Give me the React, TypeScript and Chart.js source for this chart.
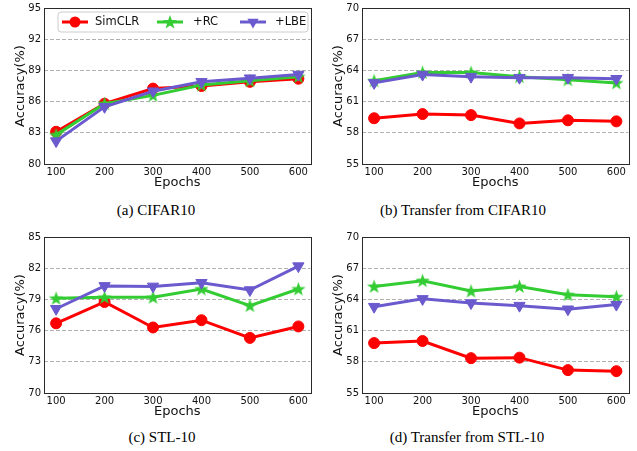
import React, { useEffect, useRef } from 'react';
import { Chart, registerables } from 'chart.js';

Chart.register(...registerables);

const epochs = [100, 200, 300, 400, 500, 600];
const seriesNames = ['SimCLR', '+RC', '+LBE'];

const cifarSimclr = [83.1, 85.8, 87.25, 87.5, 87.9, 88.2];
const cifarRC = [82.8, 85.8, 86.6, 87.6, 88.0, 88.4];
const cifarLBE = [82.2, 85.5, 87.0, 87.9, 88.25, 88.6];

const transCifarSimclr = [59.4, 59.8, 59.7, 58.9, 59.2, 59.1];
const transCifarRC = [63.0, 63.8, 63.8, 63.4, 63.1, 62.8];
const transCifarLBE = [62.8, 63.6, 63.4, 63.3, 63.3, 63.2];

const stlSimclr = [76.7, 78.75, 76.3, 77.0, 75.3, 76.4];
const stlRC = [79.1, 79.2, 79.2, 80.0, 78.4, 80.0];
const stlLBE = [78.1, 80.3, 80.25, 80.6, 79.9, 82.2];

const transStlSimclr = [59.8, 60.0, 58.35, 58.4, 57.2, 57.1];
const transStlRC = [65.25, 65.8, 64.8, 65.25, 64.45, 64.25];
const transStlLBE = [63.3, 64.05, 63.65, 63.4, 63.05, 63.5];

const cifarTicks = [80, 83, 86, 89, 92, 95];
const transferTicks = [55, 58, 61, 64, 67, 70];
const stlTicks = [70, 73, 76, 79, 82, 85];

const captions = ['(a) CIFAR10', '(b) Transfer from CIFAR10', '(c) STL-10', '(d) Transfer from STL-10'];

const RED = '#ff0000';
const GREEN = '#33cc33';
const PURPLE = '#6a5acd';
const COLORS = [RED, GREEN, PURPLE];

function starPath(ctx: CanvasRenderingContext2D, cx: number, cy: number, ro: number, ri: number) {
  ctx.beginPath();
  for (let i = 0; i < 10; i++) {
    const rr = i % 2 === 0 ? ro : ri;
    const a = -Math.PI / 2 + (i * Math.PI) / 5;
    const x = cx + rr * Math.cos(a);
    const y = cy + rr * Math.sin(a);
    if (i === 0) ctx.moveTo(x, y);
    else ctx.lineTo(x, y);
  }
  ctx.closePath();
}

function makeStarCanvas(color: string, r: number): HTMLCanvasElement {
  const size = Math.ceil(r * 2 + 2);
  const c = document.createElement('canvas');
  c.width = size;
  c.height = size;
  const ctx = c.getContext('2d')!;
  ctx.fillStyle = color;
  starPath(ctx, size / 2, size / 2 + 0.5, r, r * 0.4);
  ctx.fill();
  return c;
}

function drawMarker(ctx: CanvasRenderingContext2D, kind: number, x: number, y: number) {
  ctx.fillStyle = COLORS[kind];
  if (kind === 0) {
    ctx.beginPath();
    ctx.arc(x, y, 5.5, 0, Math.PI * 2);
    ctx.fill();
  } else if (kind === 1) {
    starPath(ctx, x, y + 0.5, 7.5, 3);
    ctx.fill();
  } else {
    const r = 6.5;
    ctx.beginPath();
    ctx.moveTo(x, y + r);
    ctx.lineTo(x - r * Math.sin((2 * Math.PI) / 3), y - r * 0.5);
    ctx.lineTo(x + r * Math.sin((2 * Math.PI) / 3), y - r * 0.5);
    ctx.closePath();
    ctx.fill();
  }
}

const framePlugin = {
  id: 'frame',
  afterDraw(chart: any) {
    const { ctx, chartArea: a } = chart;
    ctx.save();
    ctx.strokeStyle = '#2a2a2a';
    ctx.lineWidth = 1;
    ctx.strokeRect(Math.round(a.left) + 0.5, Math.round(a.top) + 0.5, Math.round(a.right - a.left), Math.round(a.bottom - a.top));
    ctx.restore();
  },
};

const legendPlugin = {
  id: 'customLegend',
  afterDraw(chart: any) {
    const opts = chart.options.plugins.customLegend;
    if (!opts || !opts.show) return;
    const ctx: CanvasRenderingContext2D = chart.ctx;
    ctx.save();
    const bx = 58, by = 12, bw = 250, bh = 20, rad = 3;
    ctx.beginPath();
    ctx.moveTo(bx + rad, by);
    ctx.arcTo(bx + bw, by, bx + bw, by + bh, rad);
    ctx.arcTo(bx + bw, by + bh, bx, by + bh, rad);
    ctx.arcTo(bx, by + bh, bx, by, rad);
    ctx.arcTo(bx, by, bx + bw, by, rad);
    ctx.closePath();
    ctx.fillStyle = 'rgba(255,255,255,0.85)';
    ctx.fill();
    ctx.strokeStyle = '#cccccc';
    ctx.lineWidth = 1;
    ctx.stroke();
    const cy = 22;
    const starts = [62, 157, 240];
    const textX = [95, 193, 275];
    ctx.font = '11.5px "DejaVu Sans"';
    ctx.textBaseline = 'middle';
    for (let i = 0; i < 3; i++) {
      ctx.strokeStyle = COLORS[i];
      ctx.lineWidth = 3;
      ctx.beginPath();
      ctx.moveTo(starts[i], cy);
      ctx.lineTo(starts[i] + 26, cy);
      ctx.stroke();
      drawMarker(ctx, i, starts[i] + 13, cy);
      ctx.fillStyle = '#111111';
      ctx.fillText(seriesNames[i], textX[i], cy + 0.5);
    }
    ctx.restore();
  },
};

type PanelProps = { values: number[][]; ticks: number[]; left: number; top: number; legend: boolean };

function Panel({ values, ticks, left, top, legend }: PanelProps) {
  const ref = useRef<HTMLCanvasElement>(null);
  useEffect(() => {
    const star = makeStarCanvas(GREEN, 7.5);
    const mk = (i: number) => ({
      label: seriesNames[i],
      data: epochs.map((e, j) => ({ x: e, y: values[i][j] })),
      borderColor: COLORS[i],
      backgroundColor: COLORS[i],
      pointBackgroundColor: COLORS[i],
      pointBorderColor: COLORS[i],
      borderWidth: 3,
      pointBorderWidth: 1,
      pointRadius: i === 0 ? 5.5 : 6.5,
      pointStyle: (i === 0 ? 'circle' : i === 1 ? star : 'triangle') as any,
      pointRotation: i === 2 ? 180 : 0,
      order: 2 - i,
      tension: 0,
    });
    const chart = new Chart(ref.current!, {
      type: 'line',
      data: { datasets: [mk(0), mk(1), mk(2)] as any },
      options: {
        animation: false,
        responsive: false,
        devicePixelRatio: 1,
        layout: { padding: { left: 10, right: 5, top: 5, bottom: 0 } },
        plugins: {
          legend: { display: false },
          tooltip: { enabled: false },
          customLegend: { show: legend },
        } as any,
        scales: {
          x: {
            type: 'linear',
            min: 75,
            max: 625,
            afterBuildTicks: (axis: any) => {
              axis.ticks = epochs.map((v) => ({ value: v }));
            },
            afterFit: (axis: any) => {
              axis.height = 28;
            },
            grid: { display: false, drawTicks: false },
            border: { display: false },
            ticks: {
              padding: 3,
              color: '#111111',
              font: { family: 'DejaVu Sans', size: 10, lineHeight: 1 },
              maxRotation: 0,
              autoSkip: false,
            },
            title: {
              display: true,
              text: 'Epochs',
              color: '#111111',
              font: { family: 'DejaVu Sans', size: 13 },
              padding: { top: 0, bottom: 2 },
            },
          },
          y: {
            type: 'linear',
            min: ticks[0],
            max: ticks[ticks.length - 1],
            afterBuildTicks: (axis: any) => {
              axis.ticks = ticks.map((v) => ({ value: v }));
            },
            afterFit: (axis: any) => {
              axis.width = 34;
            },
            grid: {
              drawTicks: false,
              color: (c: any) => (c.tick && (c.tick.value === ticks[0] || c.tick.value === ticks[ticks.length - 1]) ? 'rgba(0,0,0,0)' : '#b0b0b0'),
              lineWidth: 1,
            },
            border: { display: false, dash: [4, 2] },
            ticks: {
              padding: 3,
              color: '#111111',
              font: { family: 'DejaVu Sans', size: 10, lineHeight: 1 },
              autoSkip: false,
            },
            title: {
              display: true,
              text: 'Accuracy(%)',
              color: '#111111',
              font: { family: 'DejaVu Sans', size: 13 },
              padding: { top: 3, bottom: 0 },
            },
          },
        },
      },
      plugins: [framePlugin, legendPlugin],
    });
    return () => chart.destroy();
  }, []);
  return (
    <canvas
      ref={ref}
      width={318}
      height={192}
      style={{ position: 'absolute', left, top, width: 318, height: 192 }}
    />
  );
}

function Caption({ text, cx, cy }: { text: string; cx: number; cy: number }) {
  return (
    <div
      style={{
        position: 'absolute',
        left: cx - 150,
        top: cy - 8,
        width: 300,
        textAlign: 'center',
        fontFamily: '"Liberation Serif", "Times New Roman", serif',
        fontSize: 15,
        lineHeight: '16px',
        color: '#000',
        whiteSpace: 'nowrap',
      }}
    >
      {text}
    </div>
  );
}

export default function App() {
  return (
    <div style={{ position: 'absolute', left: 0, top: 0, width: 637, height: 451, background: '#fff', overflow: 'hidden' }}>
      <Panel values={[cifarSimclr, cifarRC, cifarLBE]} ticks={cifarTicks} left={0} top={0} legend={true} />
      <Panel values={[transCifarSimclr, transCifarRC, transCifarLBE]} ticks={transferTicks} left={318} top={0} legend={false} />
      <Panel values={[stlSimclr, stlRC, stlLBE]} ticks={stlTicks} left={0} top={229} legend={false} />
      <Panel values={[transStlSimclr, transStlRC, transStlLBE]} ticks={transferTicks} left={318} top={229} legend={false} />
      <Caption text={captions[0]} cx={156} cy={210} />
      <Caption text={captions[1]} cx={463} cy={210} />
      <Caption text={captions[2]} cx={162} cy={437} />
      <Caption text={captions[3]} cx={467} cy={437} />
    </div>
  );
}
